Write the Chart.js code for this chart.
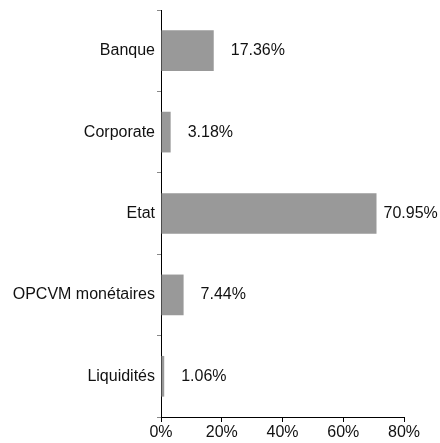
<!DOCTYPE html>
<html>
<head>
<meta charset="utf-8">
<script src="https://cdn.jsdelivr.net/npm/chart.js@4/dist/chart.umd.min.js"></script>
<style>
html,body{margin:0;padding:0;background:#fff;}
canvas{display:block;}
</style>
</head>
<body>
<canvas id="c" width="440" height="443"></canvas>
<script>
const categories = ["Banque", "Corporate", "Etat", "OPCVM monétaires", "Liquidités"];
const values = [17.36, 3.18, 70.95, 7.44, 1.06];
const xTicks = [0, 20, 40, 60, 80];

const FONT = {family: "'Liberation Sans', Arial, Helvetica, sans-serif", size: 16};

const valueLabels = {
  id: 'valueLabels',
  afterDatasetsDraw(chart) {
    const ctx = chart.ctx;
    const meta = chart.getDatasetMeta(0);
    ctx.save();
    ctx.font = FONT.size + "px " + FONT.family;
    ctx.fillStyle = "#111";
    ctx.textBaseline = "middle";
    ctx.textAlign = "left";
    meta.data.forEach((bar, i) => {
      const txt = values[i].toFixed(2) + "%";
      const w = ctx.measureText(txt).width;
      let x = bar.x + 17;
      if (x + w > chart.width - 3) x = Math.max(bar.x + 7, chart.width - 3 - w);
      ctx.fillText(txt, x, bar.y);
    });
    ctx.restore();
  }
};

new Chart(document.getElementById('c'), {
  type: 'bar',
  data: {
    labels: categories,
    datasets: [{
      data: values,
      backgroundColor: '#999999',
      borderWidth: 0,
      barPercentage: 0.5,
      categoryPercentage: 1.0
    }]
  },
  options: {
    indexAxis: 'y',
    responsive: false,
    animation: false,
    layout: {padding: {top: 10, right: 36, left: 0, bottom: 0}},
    plugins: {legend: {display: false}, tooltip: {enabled: false}},
    scales: {
      x: {
        min: 0, max: 80,
        afterBuildTicks(scale) { scale.ticks = xTicks.map(v => ({value: v})); },
        afterFit(scale) { scale.height = 26; scale.paddingLeft = 0; scale.paddingRight = 0; },
        ticks: {
          font: FONT, color: '#111', padding: 1,
          callback: v => v + '%'
        },
        grid: {drawOnChartArea: false, tickLength: 5, color: '#000', tickColor: '#000'},
        border: {display: true, color: '#000', width: 1}
      },
      y: {
        afterFit(scale) { scale.width = 161; scale.paddingTop = 0; scale.paddingBottom = 0; },
        ticks: {font: FONT, color: '#111', padding: 2},
        grid: {drawOnChartArea: false, tickLength: 4, offset: true, color: '#888', tickColor: '#888'},
        border: {display: true, color: '#000', width: 1}
      }
    }
  },
  plugins: [valueLabels]
});
</script>
</body>
</html>
